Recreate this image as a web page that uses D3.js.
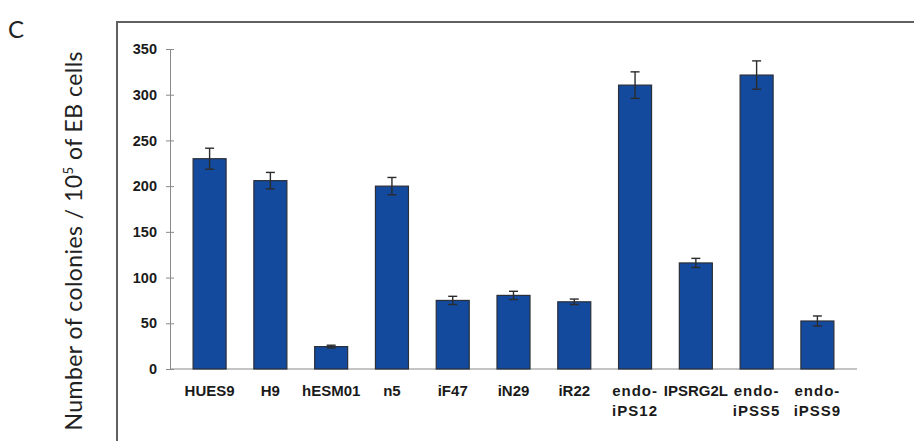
<!DOCTYPE html>
<html lang="en">
<head>
<meta charset="UTF-8"/>
<title>Colonies per EB cells</title>
<script src="https://d3js.org/d3.v7.min.js"></script>
<style>
  body { margin: 0; background: #fff; }
  svg { display: block; }
</style>
</head>
<body>
<script>
var w = 914;
var h = 441;

// data
var categories = ["HUES9", "H9", "hESM01", "n5", "iF47", "iN29", "iR22",
                  "endo-iPS12", "IPSRG2L", "endo-iPSS5", "endo-iPSS9"];
var values = [230, 206, 24.5, 200, 75, 80.5, 73.5, 310.5, 116, 321.5, 52.5];
var errors = [11.5, 9, 1.5, 9.5, 4.5, 4.5, 3, 14.5, 5, 15.5, 5.5];
var yTicks = [0, 50, 100, 150, 200, 250, 300, 350];

var dataset = categories.map(function(c, i) {
    return { name: c, value: values[i], err: errors[i] };
});

var xScale = d3.scaleBand()
    .domain(categories)
    .range([170, 857])
    .paddingInner(0.457)
    .paddingOuter(0.38);

var yScale = d3.scaleLinear()
    .domain([0, 350])
    .range([369, 49]);

var svg = d3.select("body")
    .append("svg")
    .attr("width", w)
    .attr("height", h);

/* panel letter */
svg.append("text")
    .attr("x", 8)
    .attr("y", 38)
    .attr("font-family", "Lato, 'Open Sans', sans-serif")
    .attr("font-weight", 400)
    .attr("font-size", "24px")
    .attr("fill", "#222")
    .text("C");

/* frame of the chart */
svg.append("path")
    .attr("d", "M117," + (h + 5) + "V22H" + (w + 5))
    .attr("fill", "none")
    .attr("stroke", "#606060")
    .attr("stroke-width", 2);

/* y title */
var yTitle = svg.append("text")
    .attr("transform", "translate(82,51) rotate(-90)")
    .attr("text-anchor", "end")
    .attr("font-family", "Lato, 'Open Sans', sans-serif")
    .attr("font-weight", 400)
    .attr("font-size", "23px")
    .attr("letter-spacing", "0.45px")
    .attr("fill", "#222");
yTitle.append("tspan").text("Number of colonies / 10");
yTitle.append("tspan").attr("dy", "-9").attr("font-size", "13px").text("5");
yTitle.append("tspan").attr("dy", "9").text(" of EB cells");

/* y axis */
var yAxis = d3.axisLeft(yScale)
    .tickValues(yTicks)
    .tickSize(4)
    .tickPadding(9);

var gy = svg.append("g")
    .attr("transform", "translate(170,0)")
    .call(yAxis);
gy.select(".domain").attr("stroke", "#8a8a8a");
gy.selectAll(".tick line")
    .attr("x1", 4)
    .attr("x2", -4)
    .attr("stroke", "#8a8a8a");
gy.selectAll(".tick text")
    .attr("font-family", "Arial, 'Liberation Sans', sans-serif")
    .attr("font-weight", "bold")
    .attr("font-size", "14.5px")
    .attr("fill", "#1a1a1a");

/* baseline */
svg.append("line")
    .attr("x1", 170)
    .attr("x2", 857)
    .attr("y1", yScale(0))
    .attr("y2", yScale(0))
    .attr("stroke", "#8a8a8a")
    .attr("stroke-width", 1.2);

/* bars */
svg.selectAll("rect.bar")
    .data(dataset)
    .enter()
    .append("rect")
    .attr("class", "bar")
    .attr("x", function(d) { return xScale(d.name); })
    .attr("y", function(d) { return yScale(d.value); })
    .attr("width", xScale.bandwidth())
    .attr("height", function(d) { return yScale(0) - yScale(d.value); })
    .attr("fill", "#134a9d")
    .attr("stroke", "#2a2f3a")
    .attr("stroke-width", 1.2);

/* error bars */
var eb = svg.selectAll("g.err")
    .data(dataset)
    .enter()
    .append("g")
    .attr("class", "err")
    .attr("stroke", "#2b2b2b")
    .attr("stroke-width", 1.4);

eb.append("line")
    .attr("x1", function(d) { return xScale(d.name) + xScale.bandwidth() / 2; })
    .attr("x2", function(d) { return xScale(d.name) + xScale.bandwidth() / 2; })
    .attr("y1", function(d) { return yScale(d.value + d.err); })
    .attr("y2", function(d) { return yScale(d.value - d.err); });

[1, -1].forEach(function(s) {
    eb.append("line")
        .attr("x1", function(d) { return xScale(d.name) + xScale.bandwidth() / 2 - 4.5; })
        .attr("x2", function(d) { return xScale(d.name) + xScale.bandwidth() / 2 + 4.5; })
        .attr("y1", function(d) { return yScale(d.value + s * d.err); })
        .attr("y2", function(d) { return yScale(d.value + s * d.err); });
});

/* category labels, split after the hyphen */
var labels = svg.selectAll("text.cat")
    .data(dataset)
    .enter()
    .append("text")
    .attr("class", "cat")
    .attr("text-anchor", "middle")
    .attr("font-family", "Arial, 'Liberation Sans', sans-serif")
    .attr("font-weight", "bold")
    .attr("font-size", "15px")
    .attr("fill", "#1a1a1a")
    .attr("x", function(d) { return xScale(d.name) + xScale.bandwidth() / 2; })
    .attr("y", 396);

labels.each(function(d) {
    var cut = d.name.indexOf("-");
    var parts = cut > 0 ? [d.name.slice(0, cut + 1), d.name.slice(cut + 1)] : [d.name];
    var t = d3.select(this);
    parts.forEach(function(p, i) {
        t.append("tspan")
            .attr("x", xScale(d.name) + xScale.bandwidth() / 2)
            .attr("dy", i === 0 ? 0 : 20)
            .attr("letter-spacing", parts.length > 1 ? "1px" : null)
            .text(p);
    });
});
</script>
</body>
</html>
